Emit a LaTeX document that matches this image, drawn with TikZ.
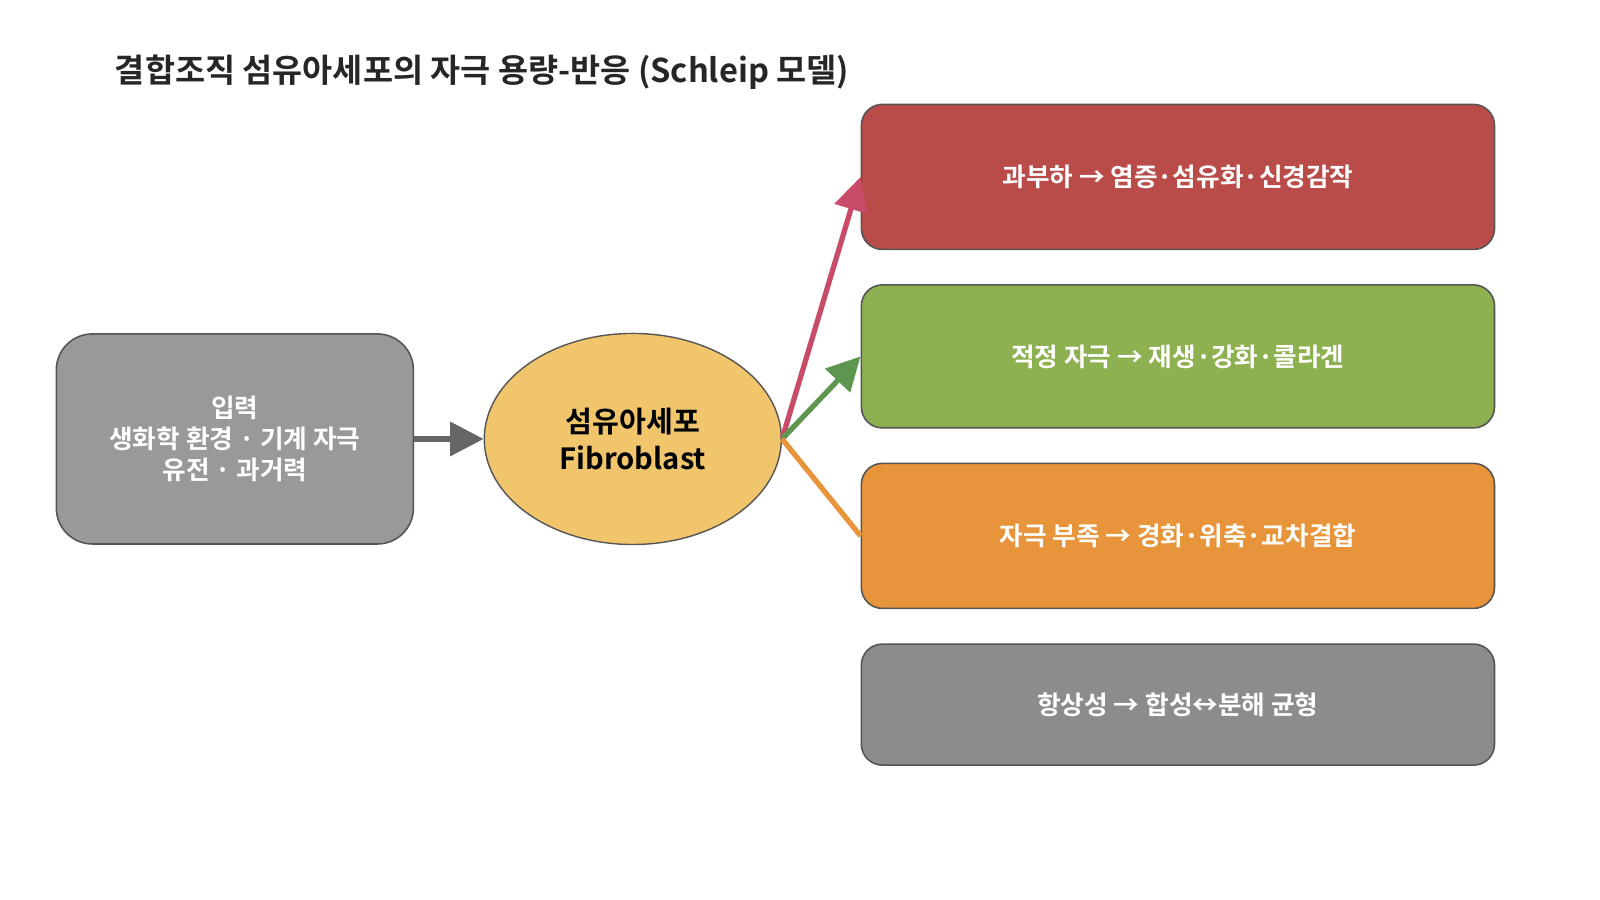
\documentclass[tikz,border=0pt]{standalone}
\usepackage{fontspec}
\setmainfont{Noto Sans CJK KR}[BoldFont={* Bold}]
\usetikzlibrary{arrows.meta,shapes.geometric}
\definecolor{cred}{HTML}{B94B48}
\definecolor{cgreen}{HTML}{8DB050}
\definecolor{corange}{HTML}{E8943B}
\definecolor{cgray}{HTML}{8C8C8C}
\definecolor{cin}{HTML}{999999}
\definecolor{cell}{HTML}{F0C56C}
\definecolor{edge}{HTML}{555555}
\begin{document}
\begin{tikzpicture}[x=0.010256cm,y=-0.010256cm,
 box/.style={draw=edge,line width=0.45pt,rounded corners=0.21cm,text=white,font=\bfseries\fontsize{7.3}{8.8}\selectfont,align=center},
 arr/.style={line width=1.5pt,-{Triangle[length=9.5pt,width=9.5pt]}}]
\useasboundingbox (0,0) rectangle (1560,877.5);
\node[anchor=west,font=\bfseries\fontsize{9.3}{11}\selectfont,text=black!85] (title) at (100,70) {결합조직 섬유아세포의 자극 용량-반응 (Schleip 모델)};
\node[box,fill=cin,rounded corners=0.36cm,inner sep=0,minimum width=3.57cm,minimum height=2.10cm] (in) at (229,428) {입력\\생화학 환경 · 기계 자극\\유전 · 과거력};
\node[draw=edge,fill=cell,ellipse,minimum width=2.97cm,minimum height=2.11cm,font=\bfseries\fontsize{8.3}{10.3}\selectfont,align=center,inner sep=0] (cell) at (617,428) {섬유아세포\\Fibroblast};
\node[box,fill=cred,minimum width=6.33cm,minimum height=1.45cm] (r) at (1148.5,172.5) {과부하 → 염증·섬유화·신경감작};
\node[box,fill=cgreen,minimum width=6.33cm,minimum height=1.43cm] (g) at (1148.5,347.5) {적정 자극 → 재생·강화·콜라겐};
\node[box,fill=corange,minimum width=6.33cm,minimum height=1.45cm] (o) at (1148.5,522.5) {자극 부족 → 경화·위축·교차결합};
\node[box,fill=cgray,minimum width=6.33cm,minimum height=1.21cm] (h) at (1148.5,687) {항상성 → 합성↔분해 균형};
\draw[arr,color=black!60] (in.east) -- (cell.west);
\draw[arr,color={rgb,255:red,200;green,75;blue,104}] (cell.east) -- (r.west);
\draw[arr,color={rgb,255:red,94;green,150;blue,80}] (cell.east) -- (g.west);
\draw[line width=1.5pt,color=corange] (cell.east) -- (o.west);
\end{tikzpicture}
\end{document}
